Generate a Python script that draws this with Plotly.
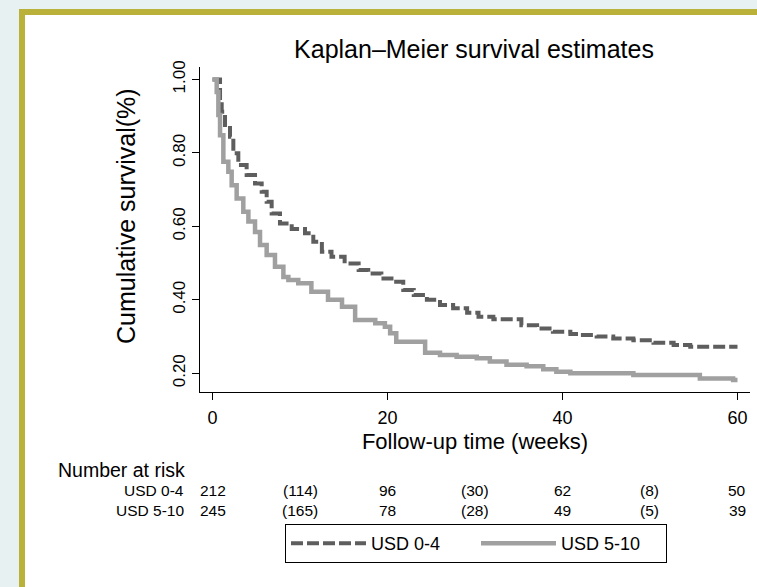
import plotly.graph_objects as go

# ---- data ----
weeks_usd04 = [0, 0.86, 1.05, 1.43, 2.0, 2.38, 2.95, 3.9, 4.86, 5.62, 6.19, 6.76, 7.71, 9.05,
               10.57, 11.52, 12.5, 13.6, 15.1, 16.7, 17.8, 19.3, 20.7, 21.8, 23.0, 24.5, 26.0,
               27.5, 29.1, 30.4, 32.1, 35.3, 37.1, 38.9, 40.9, 42.0, 43.9, 45.8, 48.1, 50.4,
               52.7, 54.6, 60]
surv_usd04 = [1.0, 0.939, 0.912, 0.876, 0.844, 0.799, 0.767, 0.74, 0.717, 0.694, 0.667, 0.635,
              0.608, 0.593, 0.581, 0.558, 0.531, 0.517, 0.499, 0.481, 0.472, 0.458, 0.449, 0.427,
              0.413, 0.40, 0.386, 0.377, 0.365, 0.354, 0.347, 0.331, 0.322, 0.313, 0.307, 0.304,
              0.30, 0.295, 0.29, 0.283, 0.277, 0.272, 0.272]

weeks_usd510 = [0, 0.48, 0.67, 0.86, 1.24, 1.81, 2.19, 2.76, 3.52, 4.1, 4.86, 5.43, 6.19, 7.14,
                8.1, 8.67, 9.8, 11.3, 13.2, 14.8, 16.3, 18.6, 19.7, 20.3, 21.0, 24.3, 26.0, 27.9,
                30.2, 31.7, 33.6, 35.9, 37.8, 39.3, 40.9, 48.1, 55.7, 59.5, 60]
surv_usd510 = [1.0, 0.966, 0.903, 0.848, 0.776, 0.749, 0.712, 0.676, 0.64, 0.613, 0.585, 0.549,
               0.522, 0.49, 0.462, 0.454, 0.445, 0.422, 0.40, 0.381, 0.345, 0.336, 0.327, 0.309,
               0.286, 0.256, 0.25, 0.245, 0.241, 0.232, 0.223, 0.219, 0.211, 0.204, 0.20, 0.195,
               0.186, 0.182, 0.182]

risk_times = [0, 10, 20, 30, 40, 50, 60]
risk_usd04 = ["212", "(114)", "96", "(30)", "62", "(8)", "50"]
risk_usd510 = ["245", "(165)", "78", "(28)", "49", "(5)", "39"]

x_ticks = [0, 20, 40, 60]
y_ticks = [0.2, 0.4, 0.6, 0.8, 1.0]
y_ticktext = ["0.20", "0.40", "0.60", "0.80", "1.00"]

FONT = "Liberation Sans, Arial, sans-serif"

fig = go.Figure()
fig.add_trace(go.Scatter(
    x=weeks_usd04, y=surv_usd04, mode="lines", line_shape="hv", name="USD 0-4",
    line=dict(color="#5e5e5e", width=4, dash="12px,4px")))
fig.add_trace(go.Scatter(
    x=weeks_usd510, y=surv_usd510, mode="lines", line_shape="hv", name="USD 5-10",
    line=dict(color="#a0a0a0", width=4.5)))

# frame (page decoration)
L, T, W, H = 200, 67, 550, 325
def px(X):
    return (X - L) / W
def py(Y):
    return (T + H - Y) / H

shapes = [
    dict(type="rect", xref="paper", yref="paper", layer="below",
         x0=px(19), x1=px(770), y0=py(600), y1=py(9),
         fillcolor="#b9b13a", line=dict(width=0)),
    dict(type="rect", xref="paper", yref="paper", layer="below",
         x0=px(25), x1=px(770), y0=py(600), y1=py(15),
         fillcolor="white", line=dict(width=0)),
]

DY = 2  # vertical correction for annotation boxes
annotations = [
    dict(text="Cumulative survival(%)", textangle=-90, xref="paper", yref="paper",
         x=px(126), y=py(216), xanchor="center", yanchor="middle", showarrow=False,
         font=dict(size=25, color="black")),
    dict(text="Number at risk", xref="paper", yref="paper", x=px(56), y=py(468 + DY),
         xanchor="left", yanchor="middle", showarrow=False, font=dict(size=19.5, color="black")),
    dict(text="USD 0-4", xref="paper", yref="paper", x=px(186), y=py(489 + DY),
         xanchor="right", yanchor="middle", showarrow=False, font=dict(size=15.5, color="black")),
    dict(text="USD 5-10", xref="paper", yref="paper", x=px(186), y=py(508 + DY),
         xanchor="right", yanchor="middle", showarrow=False, font=dict(size=15.5, color="black")),
]
for t, a, b in zip(risk_times, risk_usd04, risk_usd510):
    annotations.append(dict(text=a, xref="x", yref="paper", x=t, y=py(489 + DY), xanchor="center",
                            yanchor="middle", showarrow=False, font=dict(size=15.5, color="black")))
    annotations.append(dict(text=b, xref="x", yref="paper", x=t, y=py(508 + DY), xanchor="center",
                            yanchor="middle", showarrow=False, font=dict(size=15.5, color="black")))

fig.update_layout(
    width=757, height=587,
    margin=dict(l=L, r=757 - L - W, t=T, b=587 - T - H, pad=0),
    paper_bgcolor="#e8f1f1", plot_bgcolor="white",
    font=dict(family=FONT, color="black"),
    title=dict(text="Kaplan\u2013Meier survival estimates", x=px(474), xref="paper",
               xanchor="center", y=1 - 49 / 587, yanchor="middle",
               font=dict(size=25, color="black")),
    xaxis=dict(range=[-1.43, 61.43], tickvals=x_ticks, ticks="outside", ticklen=7,
               tickcolor="black", showline=True, linecolor="black", linewidth=1,
               showgrid=False, zeroline=False, tickfont=dict(size=18), ticklabelstandoff=2,
               title=dict(text="Follow-up time (weeks)", font=dict(size=22), standoff=7)),
    yaxis=dict(range=[0.149, 1.034], tickvals=y_ticks, ticktext=y_ticktext, ticks="outside",
               ticklen=7, tickcolor="black", showline=True, linecolor="black", linewidth=1,
               showgrid=False, zeroline=False, tickangle=-90, tickfont=dict(size=17)),
    legend=dict(orientation="h", x=px(285), y=py(524), xanchor="left", yanchor="top",
                bordercolor="black", borderwidth=1, bgcolor="white",
                font=dict(size=18), itemwidth=75, entrywidth=100, entrywidthmode="pixels"),
    shapes=shapes, annotations=annotations,
)

fig.write_html("out.html")
